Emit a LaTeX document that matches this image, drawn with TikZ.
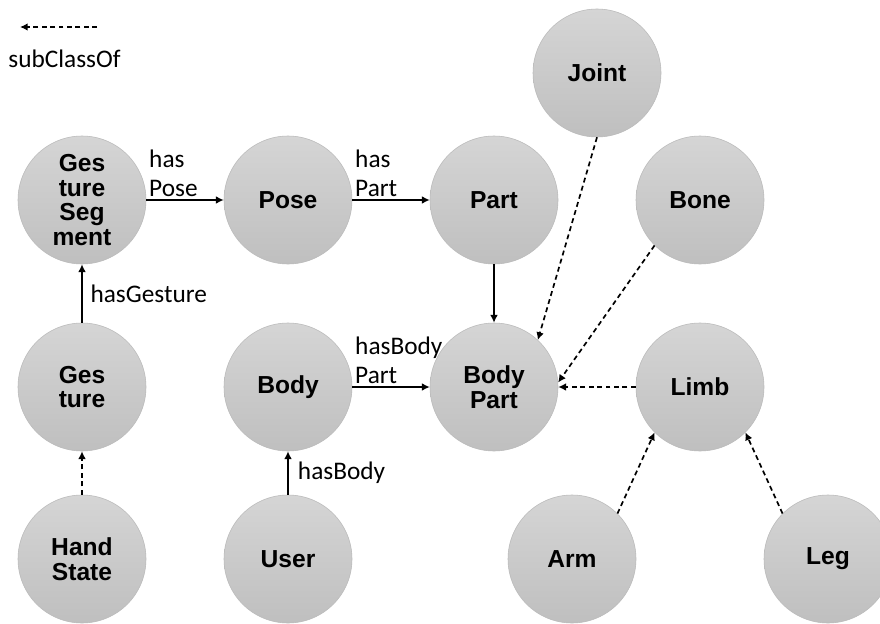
\documentclass[tikz,border=0pt]{standalone}
\usepackage{fontspec}
\setmainfont{Carlito}
\newfontfamily\circfont{Liberation Sans}
\usetikzlibrary{arrows.meta}
\definecolor{ctop}{RGB}{213,213,213}
\definecolor{cbot}{RGB}{191,191,191}
\definecolor{cline}{RGB}{186,186,186}
\begin{document}
\begin{tikzpicture}[
    cls/.style={circle,minimum size=3.2cm,inner sep=0pt,top color=ctop,bottom color=cbot,draw=cline,line width=0.4pt,align=center,font=\circfont\bfseries\fontsize{17.5}{17.7}\selectfont},
    rel/.style={-{Latex[length=5.5pt,width=5.5pt]},line width=1.2pt},
    sub/.style={rel,dash pattern=on 3.5pt off 2.5pt},
    lbl/.style={font=\fontsize{18}{21}\selectfont,align=left,inner sep=1.5pt}]
        \useasboundingbox(0,0)rectangle(22,15.575);
        \node[cls](1)at(2.05,10.575){Ges\\ture\\Seg\\ment};
        \node[cls](2)at(7.2,10.575){Pose};
        \node[cls](3)at(12.35,10.575){Part};
        \node[cls](4)at(14.925,13.75){Joint};
        \node[cls](5)at(17.5,10.575){Bone};
        \node[cls](6)at(2.05,5.9){Ges\\ture};
        \node[cls](7)at(7.2,5.9){Body};
        \node[cls](8)at(12.35,5.9){Body\\Part};
        \node[cls](9)at(17.5,5.9){Limb};
        \node[cls](10)at(2.05,1.6){Hand\\State};
        \node[cls](11)at(7.2,1.6){User};
        \node[cls](12)at(14.3,1.6){Arm};
        \node[cls](13)at(20.7,1.6){Leg};
        % legend
        \coordinate(a)at(2.43,14.9);
        \coordinate(b)at(0.5,14.9);
        \draw[sub](a)--(b);
        \node[lbl,anchor=base west](14)at(0.15,13.875){subClassOf};
        % properties
        \draw[rel](1)--(2)node[lbl,pos=0,anchor=south west]{has\\Pose};
        \draw[rel](2)--(3)node[lbl,pos=0,anchor=south west]{has\\Part};
        \draw[rel](3)--(8);
        \draw[rel](6)--(1)node[lbl,midway,right,xshift=4pt]{hasGesture};
        \draw[rel](11)--(7)node[lbl,midway,right,xshift=5pt]{hasBody};
        \draw[rel](7)--(8)node[lbl,pos=0,anchor=south west]{hasBody\\Part};
        % subclasses
        \draw[sub](10)--(6);
        \draw[sub](4.south)--(8.47);
        \draw[sub](5.225)--(8.4);
        \draw[sub](9)--(8);
        \draw[sub](12.45)--(9.225);
        \draw[sub](13.135)--(9.-45);
    \end{tikzpicture}
\end{document}
